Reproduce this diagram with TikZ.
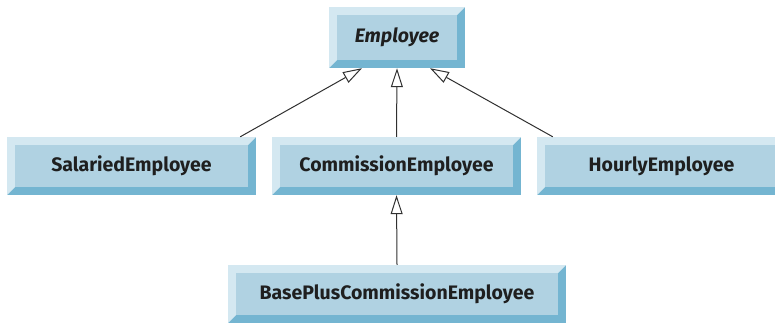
\documentclass[tikz,border=0pt]{standalone}
\usepackage{fontspec}
\setmainfont{Fira Sans}
\usetikzlibrary{arrows.meta}
\definecolor{bevlight}{HTML}{D4E8F1}
\definecolor{bevmid}{HTML}{B0D2E2}
\definecolor{bevdark}{HTML}{74B5D1}
\definecolor{linecol}{HTML}{303030}
\tikzset{
  bevbox/.style={rectangle, inner sep=0pt, minimum height=58pt,
    font=\fontsize{19.5}{21}\selectfont\bfseries, text=black!88,
    path picture={
      \fill[bevdark] (path picture bounding box.south west) rectangle (path picture bounding box.north east);
      \fill[bevlight] (path picture bounding box.north west) -- (path picture bounding box.north east)
        -- ([shift={(-8pt,-8pt)}]path picture bounding box.north east)
        -- ([shift={(8pt,-8pt)}]path picture bounding box.north west)
        -- ([shift={(8pt,8pt)}]path picture bounding box.south west)
        -- (path picture bounding box.south west) -- cycle;
      \fill[bevmid] ([shift={(8pt,8pt)}]path picture bounding box.south west) rectangle ([shift={(-8pt,-8pt)}]path picture bounding box.north east);
    }},
  inherit/.style={draw=linecol, line width=1pt, -{Triangle[length=19pt,width=12pt,fill=white,line width=1pt]}},
}
\begin{document}
\begin{tikzpicture}[x=1pt,y=-1pt]
\useasboundingbox (0,0) rectangle (775,322);
\clip (0,0) rectangle (775,322);
\node[bevbox, minimum width=136pt, minimum height=61pt, font=\fontsize{19.5}{21}\selectfont\bfseries\itshape] (emp) at (397,37.5) {Employee};
\node[bevbox, minimum width=249pt] (sal) at (131.5,166) {SalariedEmployee};
\node[bevbox, minimum width=249pt] (com) at (396.5,166) {CommissionEmployee};
\node[bevbox, minimum width=249pt] (hour) at (661.5,166) {HourlyEmployee};
\node[bevbox, minimum width=338pt] (base) at (397,294) {BasePlusCommissionEmployee};
\draw[inherit] ([xshift=-16pt]sal.north east) -- ([xshift=-35pt]emp.south);
\draw[inherit] (com.north) -- (emp.south);
\draw[inherit] ([xshift=16pt]hour.north west) -- ([xshift=33pt]emp.south);
\draw[inherit] (base.north) -- (com.south);
\end{tikzpicture}
\end{document}
